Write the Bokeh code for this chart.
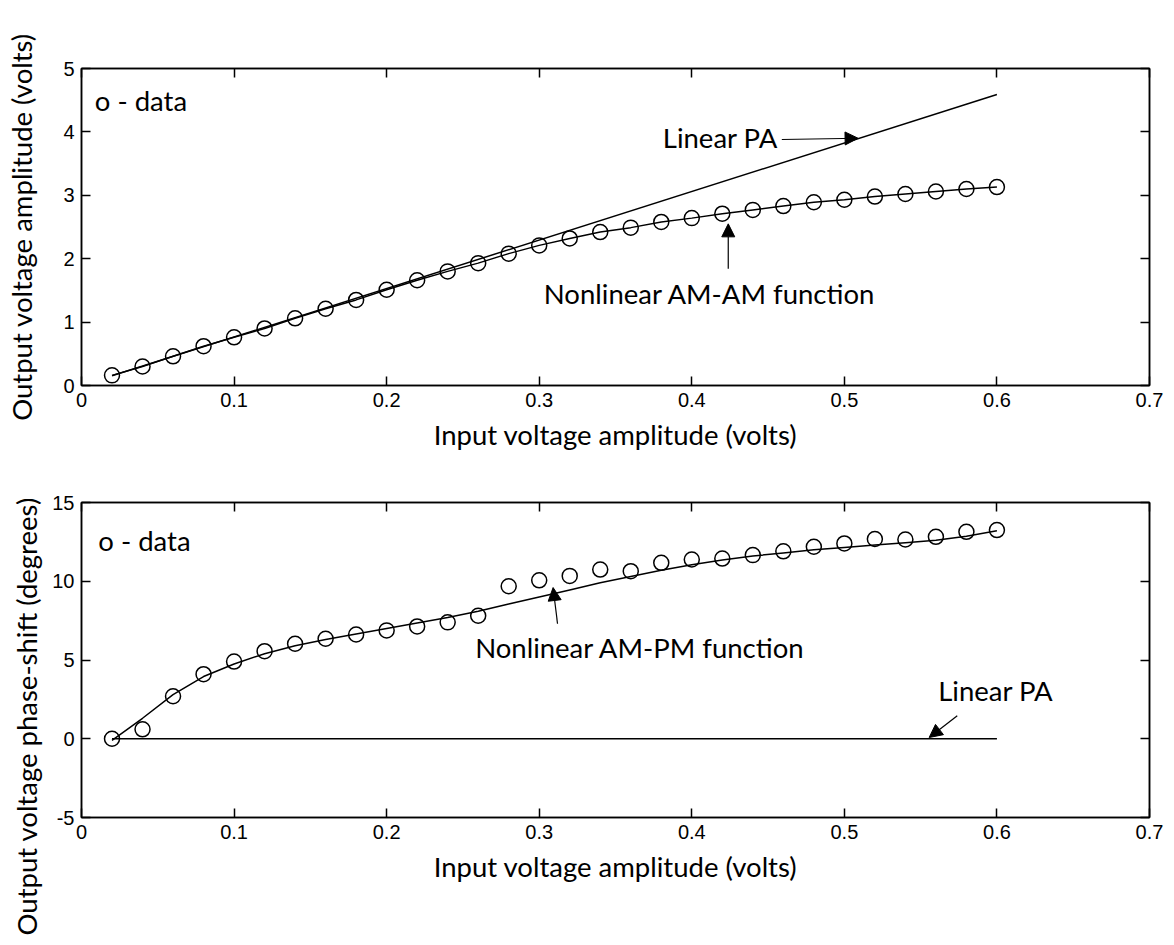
import numpy as np
from bokeh.plotting import figure
from bokeh.layouts import column
from bokeh.models import LinearAxis, FixedTicker, Label, Arrow, NormalHead, Range1d, Title
from bokeh.embed import file_html
from bokeh.resources import INLINE

# ---------------- data ----------------
input_amp = [0.02, 0.04, 0.06, 0.08, 0.10, 0.12, 0.14, 0.16, 0.18, 0.20,
             0.22, 0.24, 0.26, 0.28, 0.30, 0.32, 0.34, 0.36, 0.38, 0.40,
             0.42, 0.44, 0.46, 0.48, 0.50, 0.52, 0.54, 0.56, 0.58, 0.60]

am_am_data = [0.16, 0.30, 0.46, 0.62, 0.76, 0.90, 1.06, 1.21, 1.35, 1.51,
              1.66, 1.80, 1.93, 2.08, 2.21, 2.32, 2.42, 2.49, 2.58, 2.64,
              2.71, 2.77, 2.83, 2.89, 2.93, 2.98, 3.02, 3.06, 3.10, 3.13]
am_am_fit = am_am_data

linear_x = [0.02, 0.60]
linear_am = [0.153, 4.59]

am_pm_data = [0.0, 0.6, 2.7, 4.1, 4.9, 5.56, 6.03, 6.35, 6.62, 6.88,
              7.13, 7.39, 7.81, 9.68, 10.06, 10.34, 10.74, 10.64, 11.17, 11.38,
              11.44, 11.66, 11.90, 12.19, 12.40, 12.68, 12.65, 12.82, 13.14, 13.25]
am_pm_fit = [-0.1, 1.3, 2.8, 3.95, 4.75, 5.4, 5.9, 6.3, 6.65, 7.0,
             7.35, 7.7, 8.1, 8.55, 9.0, 9.45, 9.9, 10.3, 10.7, 11.05,
             11.35, 11.6, 11.8, 12.0, 12.15, 12.3, 12.45, 12.6, 12.85, 13.2]
linear_pm = [0.0, 0.0]

x_ticks = [0, 0.1, 0.2, 0.3, 0.4, 0.5, 0.6, 0.7]
x_tick_labels = ["0", "0.1", "0.2", "0.3", "0.4", "0.5", "0.6", "0.7"]
am_y_ticks = [0, 1, 2, 3, 4, 5]
am_y_tick_labels = ["0", "1", "2", "3", "4", "5"]
pm_y_ticks = [-5, 0, 5, 10, 15]
pm_y_tick_labels = ["-5", "0", "5", "10", "15"]

x_title = "Input voltage amplitude (volts)"
am_y_title = "Output voltage amplitude (volts)"
pm_y_title = "Output voltage phase-shift (degrees)"

# ---------------- styling ----------------
TICK_FONT = "Liberation Sans"
TEXT_FONT = "Lato"
TEXT_SIZE = "27.5px"


def style_axis(ax, ticks, labels, show_labels=True):
    ax.ticker = FixedTicker(ticks=ticks)
    ax.minor_tick_line_color = None
    ax.major_tick_in = 9
    ax.major_tick_out = 0
    ax.major_tick_line_width = 1.5
    ax.major_tick_line_color = "black"
    ax.axis_line_color = "black"
    ax.axis_line_width = 1.5
    ax.major_label_text_font = TICK_FONT
    if show_labels:
        ax.major_label_overrides = {t: l for t, l in zip(ticks, labels)}
        ax.major_label_text_color = "black"
        ax.major_label_text_font_size = "20px"
        ax.major_label_standoff = 7
    else:
        ax.major_label_text_color = None
        ax.major_label_text_font_size = "1px"
        ax.major_label_standoff = 0
    ax.axis_label_text_font = TEXT_FONT
    ax.axis_label_text_font_size = TEXT_SIZE
    ax.axis_label_text_font_style = "normal"
    ax.axis_label_text_color = "black"


def make_fig(top_border, frame_h, bottom_border, yr, yticks, ylabels):
    p = figure(frame_width=1068, frame_height=frame_h,
               x_range=Range1d(0, 0.7), y_range=Range1d(*yr),
               output_backend="svg", toolbar_location=None,
               min_border_left=80, min_border_right=26,
               min_border_top=top_border, min_border_bottom=bottom_border)
    p.xgrid.grid_line_color = None
    p.ygrid.grid_line_color = None
    p.outline_line_color = "black"
    p.outline_line_width = 1.5
    p.background_fill_color = "white"
    p.border_fill_color = "white"
    bottom_ax = p.below[0]
    left_ax = p.left[0]
    style_axis(bottom_ax, x_ticks, x_tick_labels)
    style_axis(left_ax, yticks, ylabels)
    bottom_ax.axis_label = x_title
    bottom_ax.axis_label_standoff = 8
    top_ax = LinearAxis()
    right_ax = LinearAxis()
    style_axis(top_ax, x_ticks, x_tick_labels, show_labels=False)
    style_axis(right_ax, yticks, ylabels, show_labels=False)
    p.add_layout(top_ax, "above")
    p.add_layout(right_ax, "right")
    return p, left_ax


def label(p, x, y, text, **kw):
    p.add_layout(Label(x=x, y=y, text=text, text_font=TEXT_FONT,
                       text_font_size=TEXT_SIZE, text_color="black",
                       text_baseline="middle", text_align="left", **kw))


def arrow(p, xs, ys, xe, ye):
    p.add_layout(Arrow(end=NormalHead(size=13, fill_color="black", line_color="black"),
                       x_start=xs, y_start=ys, x_end=xe, y_end=ye,
                       line_color="black", line_width=1.2))


# ---------------- top: AM-AM ----------------
p1, p1_left = make_fig(68, 317, 70, (0, 5), am_y_ticks, am_y_tick_labels)
p1_left.axis_label = am_y_title
p1_left.axis_label_standoff = 22

p1.line(linear_x, linear_am, line_color="black", line_width=1.5)
p1.line(input_amp, am_am_fit, line_color="black", line_width=1.5)
p1.scatter(input_amp, am_am_data, marker="circle", size=15,
           fill_color=None, line_color="black", line_width=1.5)

label(p1, 0.0087, 4.5, "o - data")
label(p1, 0.381, 3.91, "Linear PA")
arrow(p1, 0.459, 3.88, 0.509, 3.90)
label(p1, 0.303, 1.446, "Nonlinear AM-AM function")
arrow(p1, 0.4239, 1.84, 0.4239, 2.55)

# ---------------- bottom: AM-PM ----------------
p2, p2_left = make_fig(47, 315, 128, (-5, 15), pm_y_ticks, pm_y_tick_labels)

p2.line(linear_x, linear_pm, line_color="black", line_width=1.5)
p2.line(input_amp, am_pm_fit, line_color="black", line_width=1.5)
p2.scatter(input_amp, am_pm_data, marker="circle", size=15,
           fill_color=None, line_color="black", line_width=1.5)

label(p2, 0.011, 12.6, "o - data")
label(p2, 0.258, 5.82, "Nonlinear AM-PM function")
arrow(p2, 0.312, 7.3, 0.3091, 9.6)
label(p2, 0.5615, 3.06, "Linear PA")
arrow(p2, 0.574, 1.46, 0.5556, 0.08)

# y title of the lower panel: a side title, shifted down like the reference
p2.add_layout(Title(text=pm_y_title, align="left", offset=-118,
                    text_font=TEXT_FONT, text_font_size=TEXT_SIZE,
                    text_font_style="normal", text_color="black",
                    standoff=14), "left")

layout = column(p1, p2, spacing=0)
open("out.html", "w").write(file_html(layout, INLINE))
